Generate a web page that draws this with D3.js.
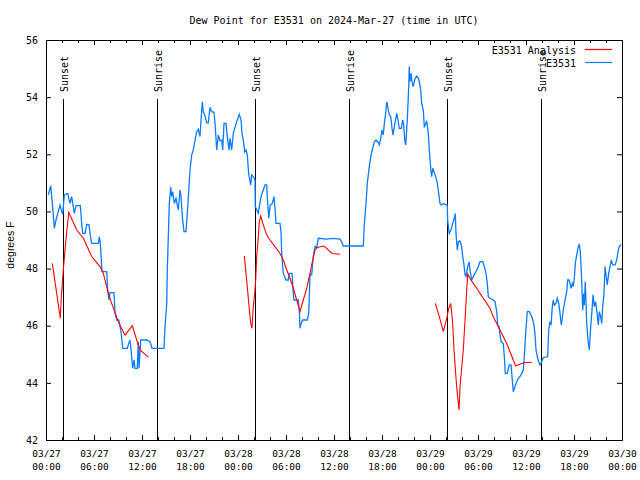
<!DOCTYPE html>
<html><head><meta charset="utf-8">
<script src="https://cdn.jsdelivr.net/npm/d3@7/dist/d3.min.js"></script>
<style>body{margin:0;background:#fff}svg{display:block}text{fill:#000}</style>
</head><body>
<svg id="c" width="640" height="480"></svg>
<script>
// ---- data (hours after 2024-03-27 00:00 UTC, degrees F) ----
const obsHours = [0.29,0.59,0.79,1.04,1.25,1.54,1.75,1.91,2.09,2.29,2.71,3.0,3.21,3.54,3.75,4.29,4.46,4.59,4.88,5.09,5.38,5.5,5.71,6.54,6.66,6.79,7.0,7.59,7.71,7.88,8.0,8.5,8.63,8.84,9.09,9.25,9.38,9.59,10.16,10.34,10.5,10.59,10.84,11.0,11.13,11.41,11.54,11.63,11.84,12.59,13.0,13.25,14.75,14.88,15.09,15.16,15.29,15.41,15.59,15.71,15.84,16.04,16.25,16.54,16.75,16.88,17.04,17.25,17.5,17.66,17.88,18.0,18.21,18.41,18.63,18.84,19.04,19.25,19.38,19.54,19.66,19.88,20.09,20.29,20.5,20.71,21.0,21.13,21.34,21.54,21.75,21.96,22.09,22.25,22.5,22.66,22.88,23.0,23.21,23.41,23.66,23.91,24.16,24.38,24.5,24.66,24.84,25.0,25.16,25.34,25.59,25.71,25.91,26.13,26.16,26.54,26.66,26.88,27.16,27.38,27.59,27.66,27.84,27.91,28.04,28.29,28.5,28.63,28.75,29.25,29.38,29.46,29.66,30.0,30.29,30.41,30.75,30.91,31.0,31.54,31.66,31.75,31.88,32.09,32.66,32.84,33.0,33.21,33.41,33.63,33.84,34.04,35.09,35.91,36.75,36.96,37.16,39.66,39.79,40.0,40.16,40.41,40.63,40.84,41.04,41.25,41.54,41.66,41.84,42.0,42.16,42.29,42.46,42.59,42.75,42.91,43.09,43.25,43.38,43.5,43.66,43.84,44.0,44.16,44.41,44.59,44.71,44.84,44.96,45.09,45.21,45.34,45.41,45.5,45.63,45.75,45.91,46.13,46.34,46.54,46.66,46.84,46.96,47.16,47.29,47.41,47.59,47.79,47.91,48.09,48.21,48.34,48.5,48.71,48.91,49.09,49.25,49.46,49.66,50.16,50.21,50.41,50.63,50.84,51.04,51.16,51.25,51.41,51.54,51.75,51.96,52.09,52.25,52.38,52.5,52.66,52.88,53.0,53.21,53.41,53.63,53.84,54.04,54.25,54.59,54.79,55.0,55.16,55.29,55.5,55.91,56.13,56.34,56.46,56.63,56.75,56.88,57.16,57.29,57.41,57.66,57.91,58.13,58.25,58.41,58.63,58.84,59.04,59.25,59.46,59.66,59.79,59.96,60.16,60.41,60.63,60.79,61.0,61.13,61.25,61.41,61.59,61.75,61.96,62.16,62.71,62.84,63.0,63.13,63.29,63.41,63.54,63.75,63.91,64.09,64.25,64.41,64.54,64.66,64.88,65.09,65.21,65.38,65.5,65.63,65.79,65.91,66.04,66.16,66.34,66.54,66.66,66.79,66.96,67.09,67.21,67.29,67.41,67.59,67.75,67.91,68.09,68.25,68.38,68.54,68.71,68.88,69.04,69.16,69.34,69.46,69.59,69.75,69.88,70.0,70.16,70.34,70.5,70.66,70.84,71.13,71.34,71.54,71.66,71.88];
const obsValues = [50.58,50.9,50.28,49.41,49.7,50.0,50.22,50.05,49.9,50.58,50.63,50.28,50.52,49.93,50.2,50.2,49.58,49.23,49.23,49.55,49.53,49.23,48.88,48.88,49.11,48.88,47.89,47.89,47.25,46.9,47.16,47.16,46.43,46.2,46.2,45.97,45.79,45.21,45.21,45.38,45.5,45.27,44.51,44.8,44.51,44.51,45.44,44.51,45.5,45.5,45.44,45.21,45.21,45.97,46.78,47.93,49.11,50.28,50.84,50.52,50.69,50.28,50.46,50.05,50.75,50.52,49.82,49.29,49.29,49.93,50.87,51.45,51.98,52.15,52.5,52.79,52.87,52.62,53.2,53.84,53.49,53.34,53.1,53.1,53.64,53.49,53.47,53.08,52.15,52.68,52.47,52.5,52.15,53.08,53.08,52.62,52.15,52.56,52.15,52.73,52.97,53.2,53.4,53.2,52.73,52.5,52.09,52.15,51.98,51.3,50.93,51.28,51.22,51.1,50.17,49.93,50.17,50.52,50.75,50.93,50.93,50.52,49.76,49.93,50.22,50.28,50.52,50.11,49.58,49.58,49.29,48.53,47.83,47.6,47.6,47.83,47.83,47.13,46.9,46.9,46.55,45.91,46.08,46.2,46.2,46.43,47.78,47.78,48.42,48.77,48.74,49.06,49.03,49.06,49.03,48.94,48.79,48.79,49.55,50.28,50.98,51.57,51.98,52.21,52.44,52.5,52.41,52.33,52.56,52.85,52.68,53.08,53.43,53.84,53.61,53.38,53.32,52.91,52.68,52.91,53.14,53.43,53.2,52.91,52.91,53.2,53.03,52.5,52.33,52.85,53.49,54.37,55.07,54.54,54.83,54.54,54.37,54.66,54.74,54.66,54.54,54.25,53.78,53.55,52.97,53.03,53.17,52.73,52.15,51.51,51.22,51.51,51.39,51.22,50.98,50.63,50.28,50.22,50.28,50.22,49.65,49.23,49.35,49.58,49.76,49.93,49.23,48.65,48.94,48.97,48.77,48.42,48.13,47.78,47.72,48.0,48.24,47.95,47.6,47.72,47.83,47.95,48.07,48.24,48.24,48.07,47.83,47.48,47.01,46.96,46.9,46.84,46.49,46.03,45.97,45.68,45.44,45.38,44.92,44.33,44.33,44.63,44.63,44.22,43.69,43.87,44.04,44.16,44.22,44.33,44.45,44.92,45.73,46.49,46.49,46.37,46.26,46.03,45.68,45.15,44.92,44.74,44.63,44.74,44.88,44.92,45.85,46.14,46.03,46.67,46.9,46.72,46.78,46.96,46.78,46.43,46.03,46.26,46.55,46.9,47.19,47.6,47.6,47.48,47.31,47.48,47.37,47.66,48.18,48.48,48.77,48.86,48.59,47.6,46.55,47.13,46.72,47.54,46.08,45.5,45.15,45.97,46.55,47.08,46.67,46.84,46.43,46.03,46.49,46.31,46.08,46.67,47.13,48.07,47.78,47.43,47.83,48.07,48.3,48.13,48.13,48.3,48.65,48.77,48.85];

const anaHours1 = [0.79,1.79,1.91,2.16,2.46,2.84,3.84,4.66,5.71,6.75,7.16,7.79,8.21,9.04,9.88,10.79,11.34,11.75,12.79];
const anaValues1 = [48.18,46.26,46.97,47.95,48.9,49.97,49.35,49.07,48.42,48.07,47.84,47.13,46.78,46.14,45.67,46.0,45.5,45.15,44.9];
const anaHours2 = [24.79,24.96,25.16,25.38,25.59,25.75,25.91,26.09,26.21,26.34,26.54,26.66,26.84,27.16,27.59,28.0,28.63,29.25,29.66,30.09,30.5,30.91,31.34,31.75,32.16,32.59,33.0,33.34,33.63,33.91,34.46,34.75,35.09,35.5,35.84,36.75];
const anaValues2 = [48.44,47.95,47.37,46.67,46.08,45.91,46.67,47.13,47.6,48.42,49.11,49.64,49.84,49.53,49.18,49.0,48.77,48.53,48.3,47.95,47.66,47.31,46.9,46.49,46.9,47.31,47.83,48.3,48.65,48.74,48.77,48.79,48.71,48.59,48.53,48.5];
const anaHours3 = [48.66,49.04,49.34,49.66,50.09,50.34,50.59,50.84,51.0,51.25,51.41,51.63,51.75,51.96,52.16,52.38,52.59,52.71,53.0,53.41,53.84,54.25,54.66,55.09,55.5,55.91,56.34,56.75,57.16,57.59,58.0,58.41,58.71,59.04,59.46,59.88,60.71];
const anaValues3 = [46.78,46.43,46.14,45.79,46.26,46.61,46.78,46.08,45.15,44.16,43.64,43.05,43.87,44.51,45.15,46.2,47.25,47.81,47.66,47.48,47.31,47.13,46.96,46.78,46.61,46.31,46.08,45.85,45.62,45.38,45.09,44.8,44.59,44.63,44.68,44.71,44.71];

const sunHours = [2.17,13.92,26.17,37.82,50.17,61.82];
const sunLabels = ["Sunset","Sunrise","Sunset","Sunrise","Sunset","Sunrise"];
const yTicks = [42,44,46,48,50,52,54,56];
const seriesNames = ["E3531 Analysis","E3531"];
const seriesColors = ["#ff0000","#0a7cff"];
const titleText = "Dew Point for E3531 on 2024-Mar-27 (time in UTC)";
const yLabel = "degrees F";

// ---- drawing ----
const t0 = Date.UTC(2024,2,27);
const toDate = h => new Date(t0 + h*3600e3);
const svg = d3.select("#c");
const L=46,R=622,T=40,B=440;
const x = d3.scaleUtc().domain([toDate(0), toDate(72)]).range([L,R]);
const y = d3.scaleLinear().domain([42,56]).range([B,T]);
const mono = "'DejaVu Sans Mono', monospace";

// minor ticks
const minor = d3.utcHour.every(2).range(toDate(0), toDate(72.01));
svg.append("g").attr("transform",`translate(0,${B})`)
  .call(d3.axisBottom(x).tickValues(minor).tickSize(-3).tickSizeOuter(0).tickFormat(""))
  .call(g=>g.select(".domain").remove());
svg.append("g").attr("transform",`translate(0,${T})`)
  .call(d3.axisTop(x).tickValues(minor).tickSize(-3).tickSizeOuter(0).tickFormat(""))
  .call(g=>g.select(".domain").remove());

// major x
const major = d3.utcHour.every(6).range(toDate(0), toDate(72.01));
const f1 = d3.utcFormat("%m/%d"), f2 = d3.utcFormat("%H:%M");
const gx = svg.append("g").attr("transform",`translate(0,${B})`)
  .call(d3.axisBottom(x).tickValues(major).tickSize(-5).tickSizeOuter(0).tickPadding(0).tickFormat(f1))
  .call(g=>g.select(".domain").remove());
gx.selectAll(".tick text").each(function(d){
  const t=d3.select(this); t.text(null).attr("dy",null).attr("y",0)
   .style("font-family",mono).style("font-size","9.5px");
  t.append("tspan").attr("x",0).attr("y",17).text(f1(d));
  t.append("tspan").attr("x",0).attr("y",30).text(f2(d));
});
svg.append("g").attr("transform",`translate(0,${T})`)
  .call(d3.axisTop(x).tickValues(major).tickSize(-5).tickSizeOuter(0).tickFormat(""))
  .call(g=>g.select(".domain").remove());

// y axes
svg.append("g").attr("transform",`translate(${L},0)`)
  .call(d3.axisLeft(y).tickValues(yTicks).tickSize(-5).tickSizeOuter(0).tickPadding(8).tickFormat(d3.format("d")))
  .call(g=>g.select(".domain").remove())
  .call(g=>g.selectAll("text").style("font-family",mono).style("font-size","10px"));
svg.append("g").attr("transform",`translate(${R},0)`)
  .call(d3.axisRight(y).tickValues(yTicks).tickSize(-5).tickSizeOuter(0).tickFormat(""))
  .call(g=>g.select(".domain").remove());

// border
svg.append("rect").attr("x",L+0.5).attr("y",T+0.5).attr("width",R-L).attr("height",B-T)
  .attr("fill","none").attr("stroke","#000").attr("stroke-width",1);

// sun lines
const sg = svg.append("g");
sunHours.forEach((h,i)=>{
  const xx = Math.round(x(toDate(h)))+0.5;
  sg.append("line").attr("x1",xx).attr("x2",xx).attr("y1",99).attr("y2",B)
    .attr("stroke","#000").attr("stroke-width",1);
  sg.append("text").attr("transform",`translate(${xx+4},92) rotate(-90)`)
    .style("font-family",mono).style("font-size","10px").text(sunLabels[i]);
});

// lines
const line = d3.line().x(d=>x(toDate(d[0]))).y(d=>y(d[1])).curve(d3.curveLinear);
const obs = d3.zip(obsHours, obsValues);
svg.append("path").datum(obs).attr("d",line).attr("fill","none")
  .attr("stroke",seriesColors[1]).attr("stroke-width",1.3).attr("stroke-linejoin","miter");
[[anaHours1,anaValues1],[anaHours2,anaValues2],[anaHours3,anaValues3]].forEach(([h,v])=>{
  svg.append("path").datum(d3.zip(h,v)).attr("d",line).attr("fill","none")
    .attr("stroke",seriesColors[0]).attr("stroke-width",1.1);
});

// legend
seriesNames.forEach((n,i)=>{
  const yy = 50 + i*13;
  svg.append("text").attr("x",576).attr("y",yy+4).attr("text-anchor","end")
    .style("font-family",mono).style("font-size","10px").text(n);
  svg.append("line").attr("x1",585).attr("x2",612).attr("y1",yy-0.5).attr("y2",yy-0.5)
    .attr("stroke",seriesColors[i]).attr("stroke-width",1.2);
});

// title & y label
svg.append("text").attr("x",334).attr("y",24).attr("text-anchor","middle")
  .style("font-family",mono).style("font-size","10px").text(titleText);
svg.append("text").attr("transform","translate(14,245) rotate(-90)").attr("text-anchor","middle")
  .style("font-family","'Liberation Sans', sans-serif").style("font-size","10.5px").text(yLabel);
</script>
</body></html>
